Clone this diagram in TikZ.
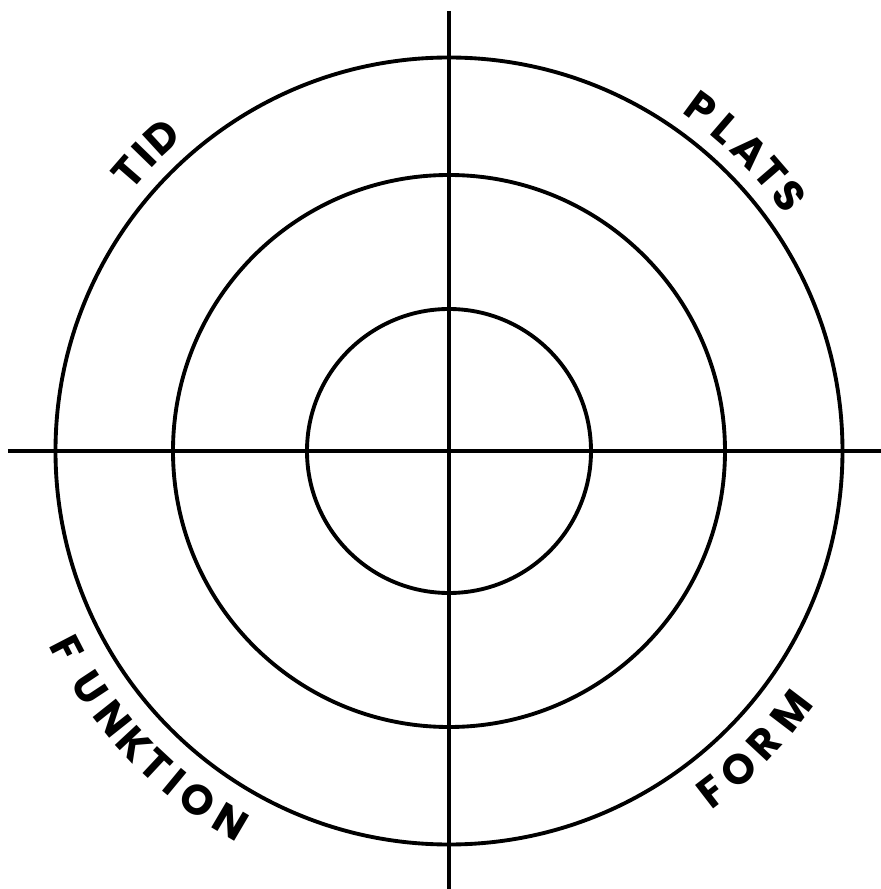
\documentclass[tikz,border=0pt]{standalone}
\usepackage{fontspec}
\newfontfamily\labelfont{Poppins}
\usepackage{tikz}
\tikzset{
    ring/.style={draw=black, line width=2.2pt},
    axisline/.style={draw=black, line width=2.2pt},
    toplabel/.style={inner sep=0pt, anchor=center, font={\labelfont\bfseries\fontsize{24pt}{26pt}\selectfont}},
}

\begin{document}
\begin{tikzpicture}[x=0.02cm, y=0.02cm]
\useasboundingbox (-449,-438) rectangle (432,451);

% Center
\coordinate (c) at (0,0);
\coordinate (top) at (0,440);
\coordinate (bottom) at (0,-438);
\coordinate (left) at (-441,0);
\coordinate (right) at (432,0);

% Circles
\draw[ring] (c) circle (393.5);
\draw[ring] (c) circle (276);
\draw[ring] (c) circle (142);

% Axes
\draw[axisline] (top) -- (bottom);
\draw[axisline] (left) -- (right);

% Labels on top (reading clockwise)
\foreach \ch/\ang in {T/139.0, I/135.8, D/132.5}
    \node[toplabel, rotate=\ang-90] (tid-\ch) at (\ang:425) {\ch};
\foreach \ch/\ang [count=\i] in {P/53.7, L/49.3, A/44.9, T/40.8, S/36.8}
    \node[toplabel, rotate=\ang-90] (plats-\i) at (\ang:425) {\ch};

% Labels below (reading counterclockwise)
\foreach \ch/\ang [count=\i] in {F/207.4, U/213.4, N/218.5, K/222.9, T/227.0, I/230.4, O/234.3, N/239.5}
    \node[toplabel, rotate=\ang+90] (funktion-\i) at (\ang:430) {\ch};
\foreach \ch/\ang [count=\i] in {F/-52.4, O/-47.7, R/-42.9, M/-37.3}
    \node[toplabel, rotate=\ang+90] (form-\i) at (\ang:430) {\ch};
\end{tikzpicture}
\end{document}
